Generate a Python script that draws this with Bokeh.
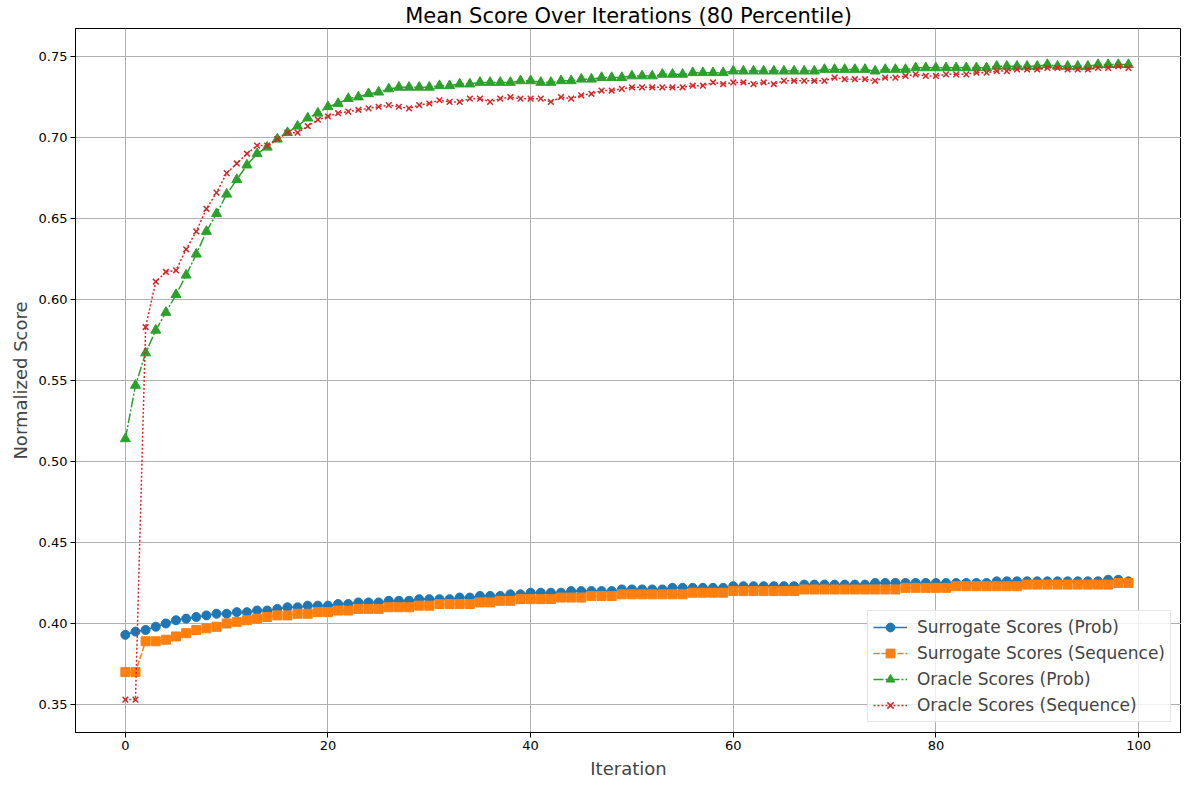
from bokeh.plotting import figure
from bokeh.models import FixedTicker, Range1d, CustomJSTickFormatter
from bokeh.embed import file_html
from bokeh.resources import INLINE

iterations = list(range(100))

surrogate_prob = [
    0.393, 0.395, 0.396, 0.398, 0.400, 0.402, 0.403, 0.404, 0.405, 0.406,
    0.406, 0.407, 0.407, 0.408, 0.408, 0.409, 0.410, 0.410, 0.411, 0.411,
    0.411, 0.412, 0.412, 0.413, 0.413, 0.413, 0.414, 0.414, 0.414, 0.415,
    0.415, 0.415, 0.415, 0.416, 0.416, 0.417, 0.417, 0.417, 0.418, 0.418,
    0.419, 0.419, 0.419, 0.419, 0.420, 0.420, 0.420, 0.420, 0.420, 0.421,
    0.421, 0.421, 0.421, 0.421, 0.422, 0.422, 0.422, 0.422, 0.422, 0.422,
    0.423, 0.423, 0.423, 0.423, 0.423, 0.423, 0.423, 0.424, 0.424, 0.424,
    0.424, 0.424, 0.424, 0.424, 0.425, 0.425, 0.425, 0.425, 0.425, 0.425,
    0.425, 0.425, 0.425, 0.425, 0.425, 0.425, 0.426, 0.426, 0.426, 0.426,
    0.426, 0.426, 0.426, 0.426, 0.426, 0.426, 0.426, 0.427, 0.427, 0.426,
]

surrogate_seq = [
    0.370, 0.370, 0.389, 0.389, 0.390, 0.392, 0.394, 0.396, 0.397, 0.398,
    0.400, 0.401, 0.402, 0.403, 0.404, 0.405, 0.405, 0.406, 0.406, 0.407,
    0.407, 0.408, 0.408, 0.409, 0.409, 0.409, 0.410, 0.410, 0.410, 0.411,
    0.411, 0.412, 0.412, 0.412, 0.412, 0.413, 0.413, 0.414, 0.414, 0.415,
    0.415, 0.415, 0.415, 0.416, 0.416, 0.416, 0.417, 0.417, 0.417, 0.418,
    0.418, 0.418, 0.418, 0.418, 0.418, 0.418, 0.419, 0.419, 0.419, 0.419,
    0.420, 0.420, 0.420, 0.420, 0.420, 0.420, 0.420, 0.421, 0.421, 0.421,
    0.421, 0.421, 0.421, 0.421, 0.421, 0.421, 0.421, 0.422, 0.422, 0.422,
    0.422, 0.422, 0.423, 0.423, 0.423, 0.423, 0.423, 0.423, 0.423, 0.424,
    0.424, 0.424, 0.424, 0.424, 0.424, 0.424, 0.424, 0.424, 0.425, 0.425,
]

oracle_prob = [
    0.514, 0.547, 0.567, 0.581, 0.592, 0.603, 0.615, 0.628, 0.642, 0.653,
    0.665, 0.674, 0.683, 0.690, 0.694, 0.699, 0.703, 0.707, 0.712, 0.715,
    0.719, 0.721, 0.724, 0.725, 0.727, 0.728, 0.730, 0.731, 0.731, 0.731,
    0.731, 0.732, 0.732, 0.733, 0.733, 0.734, 0.734, 0.734, 0.734, 0.735,
    0.735, 0.734, 0.734, 0.735, 0.735, 0.736, 0.736, 0.737, 0.737, 0.737,
    0.738, 0.738, 0.738, 0.739, 0.739, 0.739, 0.740, 0.740, 0.740, 0.740,
    0.741, 0.741, 0.741, 0.741, 0.741, 0.741, 0.741, 0.741, 0.741, 0.742,
    0.742, 0.742, 0.742, 0.742, 0.741, 0.742, 0.742, 0.742, 0.743, 0.743,
    0.743, 0.743, 0.743, 0.743, 0.743, 0.743, 0.744, 0.744, 0.744, 0.744,
    0.744, 0.745, 0.744, 0.744, 0.744, 0.744, 0.745, 0.745, 0.745, 0.745,
]

oracle_seq = [
    0.353, 0.353, 0.583, 0.611, 0.617, 0.618, 0.631, 0.642, 0.656, 0.666,
    0.678, 0.684, 0.690, 0.695, 0.695, 0.699, 0.703, 0.703, 0.707, 0.711,
    0.713, 0.715, 0.716, 0.717, 0.718, 0.719, 0.720, 0.719, 0.718, 0.720,
    0.721, 0.723, 0.722, 0.722, 0.724, 0.724, 0.722, 0.724, 0.725, 0.724,
    0.724, 0.724, 0.722, 0.725, 0.724, 0.726, 0.727, 0.729, 0.729, 0.730,
    0.731, 0.731, 0.731, 0.731, 0.731, 0.731, 0.732, 0.732, 0.734, 0.733,
    0.734, 0.734, 0.733, 0.734, 0.733, 0.735, 0.735, 0.735, 0.735, 0.735,
    0.737, 0.736, 0.736, 0.736, 0.735, 0.737, 0.737, 0.738, 0.739, 0.738,
    0.738, 0.739, 0.739, 0.739, 0.740, 0.740, 0.741, 0.741, 0.742, 0.742,
    0.742, 0.743, 0.743, 0.742, 0.742, 0.742, 0.743, 0.743, 0.744, 0.743,
]

x_ticks = [0, 20, 40, 60, 80, 100]
y_ticks = [0.35, 0.40, 0.45, 0.50, 0.55, 0.60, 0.65, 0.70, 0.75]

FONT = "DejaVu Sans"

p = figure(
    width=1181, height=781,
    output_backend="svg", toolbar_location=None,
    x_range=Range1d(-4.92, 104.24), y_range=Range1d(0.3327, 0.7673),
    min_border_left=75, min_border_right=0, min_border_top=22, min_border_bottom=40,
    title="Mean Score Over Iterations (80 Percentile)",
)

p.title.align = "center"
p.title.text_font = FONT
p.title.text_font_size = "21px"
p.title.text_font_style = "normal"
p.title.text_color = "black"
p.title.standoff = 2
p.title.offset = 0

p.outline_line_color = "black"
p.outline_line_width = 1

for ax in (p.xaxis[0], p.yaxis[0]):
    ax.axis_label_text_font = FONT
    ax.axis_label_text_font_size = "18px"
    ax.axis_label_text_font_style = "normal"
    ax.major_label_text_font = FONT
    ax.major_label_text_font_size = "13px"
    ax.major_label_text_color = "black"
    ax.major_label_standoff = 3
    ax.axis_label_standoff = 5
    ax.major_tick_out = 5
    ax.major_tick_in = 0
    ax.minor_tick_out = 0
    ax.minor_tick_in = 0
    ax.axis_line_color = "black"

p.xaxis.axis_label = "Iteration"
p.yaxis.axis_label = "Normalized Score"
p.xaxis.ticker = FixedTicker(ticks=x_ticks)
p.yaxis.ticker = FixedTicker(ticks=y_ticks)
p.yaxis.formatter = CustomJSTickFormatter(code="return tick.toFixed(2);")

p.grid.grid_line_color = "#b0b0b0"
p.grid.grid_line_width = 1
p.grid.grid_line_alpha = 1.0

blue, orange, green, red = "#1f77b4", "#ff7f0e", "#2ca02c", "#d62728"

lab1 = "Surrogate Scores (Prob)"
lab2 = "Surrogate Scores (Sequence)"
lab3 = "Oracle Scores (Prob)"
lab4 = "Oracle Scores (Sequence)"

p.line(iterations, surrogate_prob, color=blue, line_width=1.5, legend_label=lab1)
p.scatter(iterations, surrogate_prob, marker="circle", size=9, color=blue, legend_label=lab1)

p.line(iterations, surrogate_seq, color=orange, line_width=1.5, line_dash="6 2", legend_label=lab2)
p.scatter(iterations, surrogate_seq, marker="square", size=9, color=orange, legend_label=lab2)

p.line(iterations, oracle_prob, color=green, line_width=1.5, line_dash="10 2 2 2", legend_label=lab3)
p.scatter(iterations, oracle_prob, marker="triangle", size=10, color=green, legend_label=lab3)

p.line(iterations, oracle_seq, color=red, line_width=1.5, line_dash="2 2", legend_label=lab4)
p.scatter(iterations, oracle_seq, marker="x", size=8, line_color=red, line_width=1.5, legend_label=lab4)

p.legend.location = "bottom_right"
p.legend.label_text_font = FONT
p.legend.label_text_font_size = "17px"
p.legend.border_line_color = "#cccccc"
p.legend.border_line_width = 1
p.legend.background_fill_alpha = 0.8
p.legend.margin = 10
p.legend.padding = 5
p.legend.spacing = 4
p.legend.label_height = 22
p.legend.glyph_height = 22
p.legend.glyph_width = 34
p.legend.label_standoff = 10

open("out.html", "w").write(file_html(p, INLINE))
